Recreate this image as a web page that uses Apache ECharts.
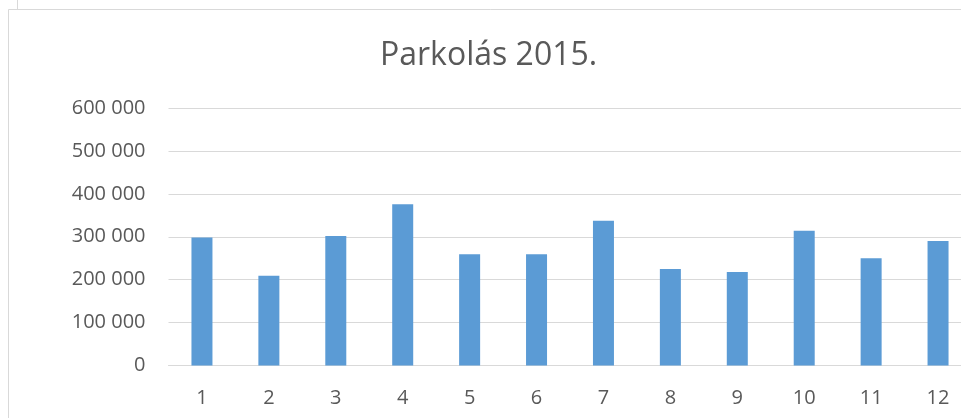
<!DOCTYPE html>
<html>
<head>
<meta charset="utf-8">
<script src="https://cdn.jsdelivr.net/npm/echarts@6/dist/echarts.min.js"></script>
<style>
  html, body { margin: 0; padding: 0; background: #fff; overflow: hidden; width: 961px; height: 418px; }
  /* the chart box runs a little past the right edge of the picture */
  #chart { width: 972px; height: 418px; }
</style>
</head>
<body>
<div id="chart"></div>
<script>
// havi parkolás adatok (leolvasva)
const months = ['1', '2', '3', '4', '5', '6', '7', '8', '9', '10', '11', '12']
const parking = [298000, 209000, 302000, 376000, 259000, 259000, 337000, 225000, 218000, 314000, 250000, 290000]
const titleText = 'Parkolás 2015.'

const ink = '#595959'
const lineGray = '#d9d9d9'
const font = '"Open Sans", "Noto Sans", sans-serif'

function fmt(v) {
  return String(v).replace(/\B(?=(\d{3})+(?!\d))/g, ' ')
}

const chart = echarts.init(document.getElementById('chart'))
chart.setOption({
  backgroundColor: '#fff',
  animation: false,
  textStyle: { fontFamily: font },
  title: {
    text: titleText,
    left: 380,
    top: 40,
    padding: 0,
    textStyle: { color: ink, fontSize: 32, fontWeight: 'normal', fontFamily: font },
  },
  // frame of the chart box
  graphic: [
    { type: 'line', shape: { x1: 8.5, y1: 9.5, x2: 972, y2: 9.5 }, style: { stroke: lineGray, lineWidth: 1 } },
    { type: 'line', shape: { x1: 8.5, y1: 9.5, x2: 8.5, y2: 418 }, style: { stroke: lineGray, lineWidth: 1 } },
    { type: 'line', shape: { x1: 17.5, y1: 0, x2: 17.5, y2: 9 }, style: { stroke: lineGray, lineWidth: 1 } },
  ],
  grid: { left: 168.5, right: 0.5, top: 108, bottom: 52.5 },
  xAxis: {
    type: 'category',
    data: months,
    axisLine: { lineStyle: { color: lineGray, width: 1 } },
    axisTick: { show: false },
    axisLabel: { color: ink, fontSize: 20, margin: 23, fontFamily: font },
  },
  yAxis: {
    type: 'value',
    min: 0,
    max: 600000,
    interval: 100000,
    axisLine: { show: false },
    axisTick: { show: false },
    axisLabel: { color: ink, fontSize: 20, margin: 23, fontFamily: font, formatter: fmt },
    splitLine: { lineStyle: { color: lineGray, width: 1 } },
  },
  series: [
    {
      type: 'bar',
      data: parking,
      barWidth: 21,
      itemStyle: { color: '#5b9bd5' },
    },
  ],
})
</script>
</body>
</html>
